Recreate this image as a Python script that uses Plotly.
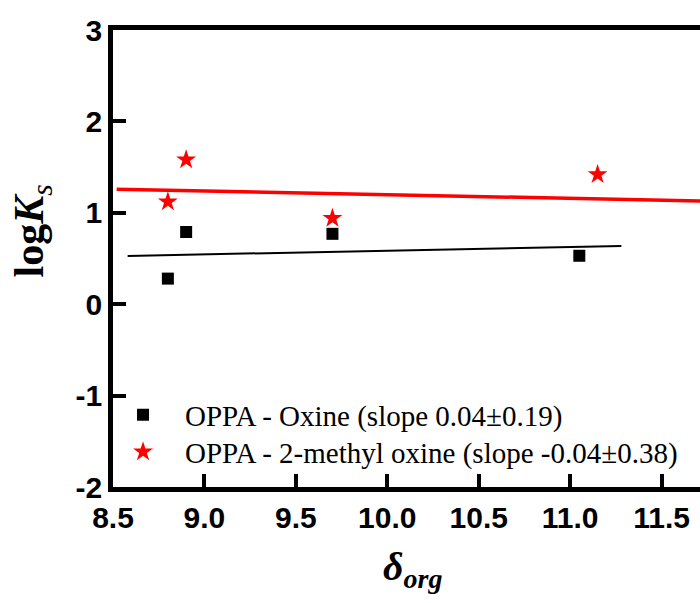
import plotly.graph_objects as go

# Solubility parameter of the organic diluent and log of the synergistic constant
delta_oxine = [8.8, 8.9, 9.7, 11.05]
logk_oxine = [0.28, 0.79, 0.77, 0.53]

delta_methyl = [8.8, 8.9, 9.7, 11.15]
logk_methyl = [1.12, 1.58, 0.94, 1.42]

# Linear fits (slope as reported in the legend)
fit_oxine_x = [8.58, 11.28]
fit_oxine_slope, fit_oxine_icpt = 0.04, 0.185
fit_methyl_x = [8.52, 11.9]
fit_methyl_slope, fit_methyl_icpt = -0.04, 1.598

x_ticks = [8.5, 9.0, 9.5, 10.0, 10.5, 11.0, 11.5]
y_ticks = [-2, -1, 0, 1, 2, 3]

fig = go.Figure()

fig.add_trace(go.Scatter(
    x=fit_oxine_x,
    y=[fit_oxine_icpt + fit_oxine_slope * v for v in fit_oxine_x],
    mode="lines", line=dict(color="black", width=2), showlegend=False,
))
fig.add_trace(go.Scatter(
    x=fit_methyl_x,
    y=[fit_methyl_icpt + fit_methyl_slope * v for v in fit_methyl_x],
    mode="lines", line=dict(color="#ff0000", width=3.5), showlegend=False,
))
fig.add_trace(go.Scatter(
    x=delta_oxine, y=logk_oxine, mode="markers",
    marker=dict(symbol="square", size=12, color="black"),
    name="OPPA - Oxine (slope 0.04\u00b10.19)",
    legend="legend",
))
fig.add_trace(go.Scatter(
    x=delta_methyl, y=logk_methyl, mode="markers",
    marker=dict(symbol="star", size=15, color="#ff0000", line=dict(width=0)),
    name="OPPA - 2-methyl oxine (slope -0.04\u00b10.38)",
    legend="legend2",
))

tick_font = dict(family="Liberation Sans", size=30, color="black", weight="bold")
axis_common = dict(
    showline=True, linecolor="black", linewidth=4.5,
    ticks="inside", ticklen=13, tickwidth=4, tickcolor="black",
    showgrid=False, zeroline=False,
)

fig.update_layout(
    xaxis=dict(
        range=[8.5, 11.71], tickvals=x_ticks,
        ticktext=[f"{v:.1f}" for v in x_ticks],
        tickfont=tick_font, mirror=True, **axis_common,
    ),
    yaxis=dict(
        range=[-2, 3], tickvals=y_ticks,
        ticktext=[str(v) for v in y_ticks],
        tickfont=tick_font, mirror=False, **axis_common,
    ),
)

fig.add_annotation(
    text="<b>log<i>K</i></b><sub><i>s</i></sub>",
    xref="paper", yref="paper", x=-0.185, y=0.56, textangle=-90,
    showarrow=False, font=dict(family="Liberation Serif", size=42, color="black"),
)
fig.add_annotation(
    text="<b><i>\u03b4</i></b><sub><b><i>org</i></b></sub>",
    xref="paper", yref="paper", x=0.51, y=-0.18, yanchor="middle",
    showarrow=False, font=dict(family="Liberation Serif", size=40, color="black"),
)

legend_common = dict(
    xanchor="left", yanchor="middle",
    bgcolor="rgba(0,0,0,0)", itemwidth=74,
    font=dict(family="Liberation Serif", size=29, color="black"),
)

fig.update_layout(
    width=700, height=603,
    margin=dict(l=113, r=0, t=30, b=116),
    paper_bgcolor="white", plot_bgcolor="white",
    showlegend=True,
    legend=dict(x=-0.0204, y=0.1575, **legend_common),
    legend2=dict(x=-0.0204, y=0.0766, **legend_common),
)

fig.write_html("out.html")
